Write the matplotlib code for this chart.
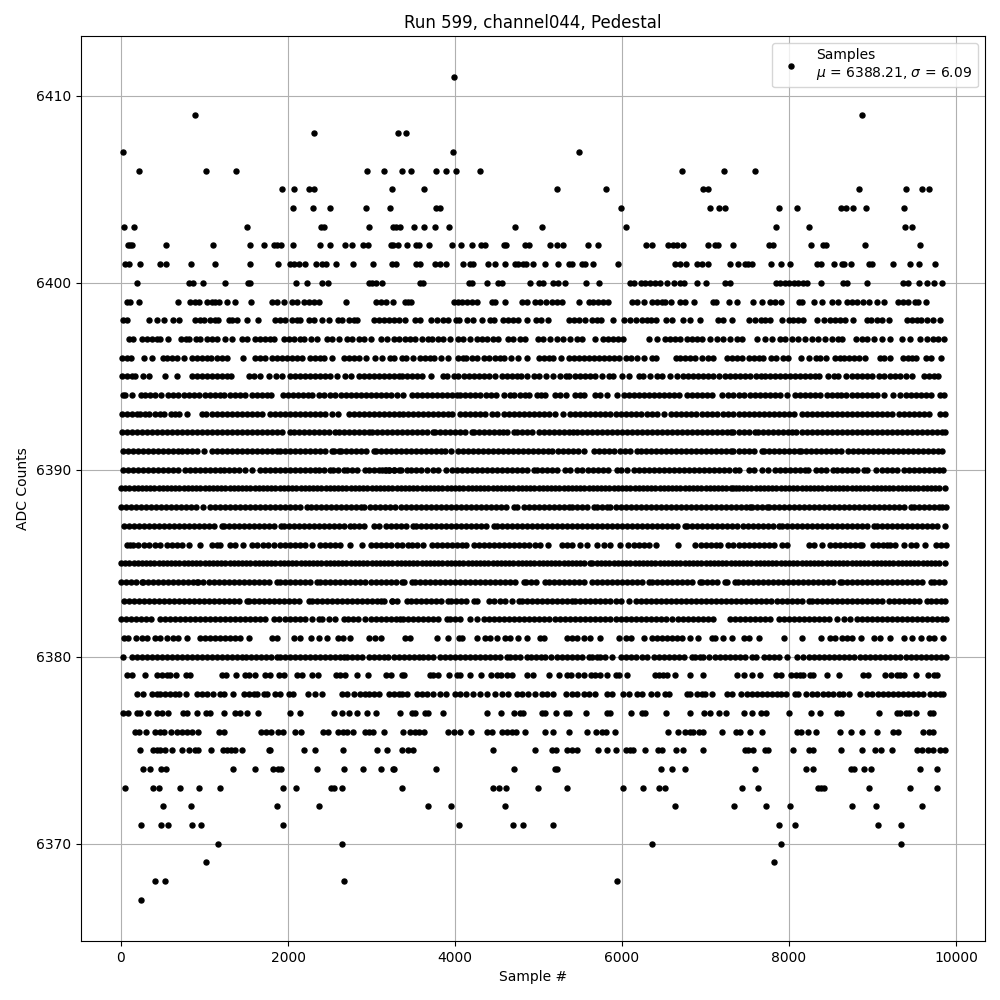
import matplotlib
matplotlib.use("Agg")
import matplotlib.pyplot as plt

# Sample numbers, one list per ADC level.
# Sparse rows are read dot by dot. In the solid rows (about 6380-6396) single
# samples cannot be told apart, so those values only approximate the visible
# runs and gaps, at a hand-chosen spacing; they are not true sample readings.
x_6411 = [3992]
x_6409 = [892, 8877]
x_6408 = [2308, 3313, 3417]
x_6407 = [28, 3980, 5488]
x_6406 = [220,1012,1372,2948,3152,3369,3477,3776,3896,4016,4303,6723,7225,7596]
x_6405 = [1924,2068,2248,2308,3244,3633,5225,5811,6974,7034,8841,9404,9595,9679]
x_6404 = [2056,2296,2500,2932,3220,3776,3824,5991,7058,7165,7237,7884,8099,8626,8686,8770,8925,9380]
x_6403 = [40,160,1504,2392,2428,2968,3256,3290,3340,3505,3633,3764,3932,4722,5045,6051,7848,8243,9392,9476]
x_6402 = [84,108,132,544,1096,1540,1708,1828,1868,1920,2056,2380,2500,2680,2764,2896,2956,3228,3262,3321,3429,3537,3573,3692,3968,4068,4207,4315,4363,4590,4614,4842,4890,5141,5225,5297,5596,5716,6290,6362,6553,6613,6660,6735,7034,7114,7154,7333,7764,7812,8267,8410,8438,8913,9572]
x_6401 = [48,100,232,468,540,844,1120,1540,1876,2028,2068,2132,2200,2332,2412,2460,2572,2776,3016,3248,3288,3533,3581,3760,3820,3892,4099,4179,4219,4399,4483,4602,4718,4758,4818,4850,4937,5081,5237,5368,5396,5520,5556,5656,5955,6635,6695,6767,6902,6962,7034,7297,7393,7473,7513,7561,7788,7908,8016,8339,8379,8542,8630,8658,8746,8961,8993,9248,9452,9560,9751]
x_6400 = [196,820,868,988,1240,1520,1540,2092,2224,2404,2476,2968,3008,3052,3124,3581,3621,4171,4203,4387,4518,4558,4901,5009,5057,5177,5229,5320,5572,5727,6095,6142,6226,6274,6334,6394,6454,6541,6625,6695,6743,6894,7006,7233,7293,7844,7892,7952,8003,8059,8111,8163,8219,8387,8642,8690,8937,9368,9428,9560,9647,9739,9835]
x_6399 = [68,108,220,688,828,888,940,1028,1088,1128,1168,1268,1360,1552,1804,1868,1948,2044,2108,2188,2248,2308,2368,2692,3048,3108,3168,3256,3401,3441,3473,3988,4040,4080,4139,4199,4259,4439,4479,4602,4806,4858,4957,5017,5089,5157,5217,5277,5488,5608,5656,5716,5767,5835,6122,6182,6262,6354,6414,6474,6513,6581,6695,6755,6862,7094,7126,7285,7381,7573,7680,7772,7832,7904,8123,8151,8303,8399,8518,8590,8690,8750,8809,8889,8961,9057,9141,9308,9368,9428,9508,9548,9643]
x_6398 = [28,68,340,436,516,628,700,888,948,996,1060,1128,1156,1288,1328,1388,1504,1636,1848,1908,1968,2044,2108,2148,2248,2308,2408,2488,2596,2648,2728,2788,2828,3028,3088,3148,3208,3268,3328,3401,3521,3581,3708,3780,3860,3912,4012,4052,4147,4211,4327,4419,4467,4578,4638,4698,4750,4866,4969,5025,5117,5368,5424,5488,5556,5636,5696,5743,5895,6027,6095,6166,6234,6294,6342,6406,6525,6593,6735,6815,6934,7154,7213,7321,7525,7592,7660,7712,7772,7920,8000,8051,8111,8171,8339,8418,8490,8550,8610,8670,8762,8929,8981,9049,9109,9200,9416,9468,9528,9576,9655,9727,9811]
x_6397 = [100,148,256,308,368,428,468,560,720,780,820,900,948,1028,1088,1148,1248,1328,1448,1508,1608,1668,1728,1788,1828,1948,2008,2068,2148,2196,2276,2348,2468,2528,2608,2708,2768,2848,2908,2988,3116,3188,3268,3328,3401,3461,3521,3601,3681,3720,3800,3860,3940,4040,4100,4179,4259,4319,4379,4459,4518,4638,4698,4778,4838,4997,5057,5137,5217,5297,5376,5456,5516,5680,5775,5835,5895,5955,6015,6326,6422,6513,6573,6633,6693,6775,6834,6894,6954,7054,7134,7213,7293,7373,7433,7620,7712,7792,7892,7952,8031,8111,8191,8271,8351,8430,8510,8590,8630,8801,8869,8929,9021,9109,9208,9356,9448,9568,9647,9727,9787,9860]
x_6396 = [8,68,116,280,376,508,548,608,676,760,848,908,968,1028,1076,1148,1208,1268,1464,1608,1668,1728,1808,1868,1928,1988,2048,2108,2168,2268,2328,2388,2436,2532,2668,2728,2788,2848,2940,3040,3128,3222,3270,3362,3414,3502,3582,3642,3702,3754,3830,3922,4030,4090,4134,4202,4262,4342,4402,4482,4542,4590,4670,4750,4862,5002,5062,5122,5174,5270,5362,5422,5482,5542,5602,5662,5722,5782,5842,5902,5962,6042,6102,6182,6262,6362,6406,6642,6690,6755,6815,6875,6963,7035,7087,7255,7315,7375,7435,7515,7575,7635,7687,7787,7847,7927,7983,8147,8235,8323,8375,8447,8555,8607,8655,8715,8775,8835,8915,9087,9135,9207,9367,9423,9475,9519,9635,9695,9819]
x_6395 = [12,68,128,168,268,340,532,676,848,908,968,1028,1088,1148,1208,1268,1320,1528,1588,1660,1772,1860,1928,2028,2088,2148,2208,2268,2328,2388,2448,2508,2588,2688,2756,2848,2908,2968,3028,3088,3148,3208,3268,3328,3362,3422,3482,3542,3602,3710,3854,3910,3982,4030,4102,4162,4222,4282,4342,4402,4482,4562,4622,4682,4742,4794,4866,4942,5002,5090,5174,5262,5334,5362,5442,5502,5562,5622,5682,5762,5842,5890,6002,6082,6202,6254,6334,6422,6482,6574,6663,6727,6795,6855,6915,6975,7035,7095,7167,7235,7295,7355,7415,7475,7535,7607,7663,7715,7775,7835,7895,7955,8015,8075,8135,8195,8255,8315,8363,8463,8543,8587,8687,8755,8815,8875,8935,8995,9075,9135,9215,9275,9335,9395,9475,9615,9675,9735,9787]
x_6394 = [20,48,136,236,288,348,408,484,568,628,688,756,816,876,936,1008,1068,1128,1188,1228,1308,1368,1428,1488,1568,1628,1688,1748,1796,1936,1996,2056,2116,2176,2236,2288,2368,2436,2500,2568,2636,2696,2756,2816,2876,2936,2996,3056,3116,3176,3236,3308,3374,3482,3542,3602,3662,3722,3782,3842,3902,3962,4022,4062,4122,4182,4242,4294,4374,4434,4494,4582,4654,4702,4774,4834,4882,4982,5034,5082,5202,5262,5334,5442,5502,5542,5682,5742,5822,5934,6022,6082,6142,6202,6262,6322,6382,6442,6502,6562,6622,6687,6775,6835,6895,6955,7015,7075,7195,7275,7335,7395,7455,7535,7595,7655,7715,7775,7835,7895,7975,8075,8135,8195,8255,8315,8375,8455,8515,8575,8623,8687,8755,8815,8875,8935,8995,9055,9135,9243,9327,9395,9455,9515,9575,9635,9695,9807,9855]
x_6393 = [8,68,128,188,228,288,340,408,468,516,596,648,700,792,968,1020,1088,1148,1208,1268,1328,1388,1448,1508,1568,1628,1688,1780,1840,1900,1968,2028,2088,2148,2208,2268,2328,2388,2448,2528,2596,2728,2788,2848,2908,2968,3028,3088,3148,3208,3268,3328,3382,3442,3502,3562,3622,3682,3742,3802,3862,3922,3962,4062,4122,4182,4242,4302,4354,4442,4502,4582,4642,4702,4762,4822,4882,4942,5002,5062,5122,5202,5294,5382,5442,5502,5562,5622,5682,5742,5802,5862,5922,5982,6042,6102,6162,6222,6302,6362,6422,6502,6582,6642,6703,6767,6827,6887,6955,7015,7075,7135,7215,7275,7335,7395,7455,7515,7575,7635,7695,7755,7815,7875,7935,7995,8055,8155,8215,8275,8335,8395,8455,8515,8575,8635,8695,8755,8815,8875,8935,8995,9055,9115,9175,9235,9315,9375,9435,9495,9555,9615,9675,9807,9863]
x_6392 = [8,68,128,188,248,308,368,428,488,548,608,668,728,788,848,908,968,1028,1088,1148,1208,1268,1328,1388,1448,1508,1568,1628,1688,1748,1808,1868,1928,2020,2068,2128,2188,2248,2308,2368,2428,2488,2568,2608,2668,2728,2788,2848,2908,2968,3008,3068,3128,3188,3248,3308,3368,3428,3488,3548,3608,3668,3734,3762,3822,3882,3942,4002,4062,4122,4202,4230,4290,4350,4410,4470,4530,4574,4622,4702,4742,4802,4862,4922,5002,5062,5122,5182,5242,5302,5362,5414,5462,5522,5582,5642,5702,5762,5822,5882,5942,6002,6062,6122,6182,6242,6302,6362,6422,6482,6542,6602,6662,6722,6782,6842,6902,6962,7022,7082,7142,7202,7262,7307,7335,7395,7455,7515,7587,7623,7683,7743,7803,7863,7923,7983,8035,8087,8155,8215,8275,8335,8395,8455,8515,8575,8635,8695,8755,8815,8875,8935,8995,9055,9115,9175,9235,9295,9355,9415,9475,9535,9595,9655,9715,9775,9835,9865]
x_6391 = [28,88,148,208,268,328,388,448,508,568,628,688,728,788,848,908,996,1088,1148,1208,1268,1328,1388,1448,1508,1568,1628,1688,1748,1808,1868,1908,1968,2028,2088,2148,2208,2268,2328,2388,2448,2528,2548,2608,2636,2696,2756,2816,2876,2936,3028,3048,3108,3168,3228,3288,3348,3408,3468,3528,3588,3648,3708,3768,3828,3882,3954,4030,4090,4150,4210,4270,4330,4390,4450,4510,4570,4630,4690,4750,4810,4870,4930,4990,5050,5110,5162,5230,5290,5350,5410,5470,5550,5670,5730,5790,5850,5910,5970,6030,6090,6182,6230,6290,6350,6410,6470,6530,6590,6650,6710,6770,6830,6890,6950,7010,7070,7130,7190,7250,7307,7335,7395,7455,7515,7575,7675,7703,7763,7823,7883,7943,8003,8063,8115,8143,8203,8263,8323,8383,8443,8503,8563,8623,8703,8767,8827,8887,8947,9007,9067,9127,9187,9247,9307,9367,9427,9487,9547,9607,9667,9727,9787,9835]
x_6390 = [20,80,140,200,260,320,380,440,500,560,620,688,768,828,888,948,1008,1068,1128,1188,1236,1296,1356,1416,1488,1568,1660,1720,1780,1840,1900,1960,2020,2080,2140,2200,2260,2320,2368,2428,2500,2540,2600,2668,2708,2768,2828,2928,2968,3028,3088,3168,3208,3268,3348,3122,3162,3214,3274,3334,3422,3470,3530,3590,3662,3742,3802,3890,3962,4022,4082,4142,4202,4262,4322,4382,4442,4502,4562,4622,4682,4742,4802,4862,4942,4982,5042,5102,5162,5222,5322,5382,5462,5522,5590,5650,5710,5770,5830,5942,5990,6062,6142,6202,6262,6322,6382,6442,6502,6562,6622,6682,6743,6803,6863,6923,6983,7043,7103,7163,7223,7287,7355,7395,7515,7575,7675,7751,7835,7895,7955,8015,8075,8135,8195,8223,8327,8383,8443,8527,8575,8635,8695,8755,8815,8895,8935,9043,9115,9175,9235,9295,9375,9435,9495,9555,9615,9675,9735,9795,9850]
x_6389 = [0,50,100,150,200,250,300,350,400,450,500,550,600,650,700,750,800,850,900,950,1000,1050,1100,1150,1200,1250,1300,1350,1400,1450,1500,1550,1600,1650,1700,1750,1800,1850,1900,1950,2000,2050,2100,2150,2200,2250,2300,2350,2400,2450,2500,2550,2600,2650,2700,2750,2800,2850,2900,2950,3000,3050,3100,3150,3200,3250,3300,3350,3400,3450,3500,3550,3600,3650,3700,3750,3800,3850,3900,3950,4000,4050,4100,4150,4200,4250,4300,4350,4400,4450,4500,4550,4600,4650,4700,4750,4800,4850,4900,4950,5000,5050,5100,5150,5200,5250,5300,5350,5400,5450,5500,5550,5600,5650,5700,5750,5800,5850,5900,5950,6000,6050,6100,6150,6200,6250,6300,6350,6400,6450,6500,6550,6600,6650,6700,6750,6800,6850,6900,6950,7000,7050,7100,7150,7200,7250,7300,7325,7363,7400,7450,7500,7550,7600,7650,7700,7750,7800,7850,7900,7950,8000,8050,8100,8150,8200,8250,8300,8350,8400,8450,8500,8550,8600,8650,8700,8750,8800,8850,8900,8950,9000,9050,9100,9150,9200,9250,9300,9350,9400,9450,9500,9550,9600,9650,9700,9750,9800,9865]
x_6388 = [0,60,120,180,240,300,360,420,480,540,600,660,720,780,840,900,988,1068,1128,1188,1248,1308,1368,1428,1488,1548,1608,1668,1728,1788,1848,1908,1968,2028,2088,2148,2228,2276,2336,2396,2456,2516,2576,2636,2696,2756,2816,2876,2916,2976,3036,3096,3156,3216,3276,3348,3408,3468,3528,3588,3648,3708,3768,3828,3888,3948,4008,4068,4128,4188,4248,4308,4368,4428,4488,4548,4608,4702,4742,4830,4882,4942,5002,5062,5122,5182,5242,5302,5362,5402,5462,5522,5582,5662,5702,5762,5822,5862,5922,5982,6042,6102,6162,6222,6282,6342,6402,6462,6522,6582,6642,6702,6762,6822,6882,6942,7002,7062,7122,7182,7242,7302,7362,7422,7482,7535,7555,7615,7675,7735,7759,7819,7879,7939,7999,8059,8119,8179,8239,8299,8359,8419,8479,8539,8599,8659,8719,8779,8839,8899,8959,9019,9079,9139,9199,9259,9319,9379,9455,9495,9555,9615,9675,9735,9795,9835,9875]
x_6387 = [36,96,156,216,276,336,396,456,516,576,636,696,756,816,876,936,996,1056,1116,1208,1236,1296,1356,1416,1476,1536,1596,1656,1716,1776,1836,1916,1956,2016,2076,2136,2196,2256,2316,2376,2436,2496,2556,2616,2676,2748,2788,2848,2908,3028,3088,3168,3228,3288,3348,3414,3502,3534,3594,3654,3714,3774,3834,3894,3954,4014,4074,4134,4194,4254,4314,4374,4462,4502,4562,4622,4682,4742,4802,4862,4922,4982,5042,5102,5162,5222,5282,5342,5402,5462,5522,5582,5642,5702,5762,5822,5882,5942,6002,6062,6122,6182,6242,6302,6362,6422,6482,6542,6602,6662,6755,6783,6843,6903,6963,7023,7083,7143,7203,7263,7323,7383,7443,7503,7563,7623,7683,7743,7803,7875,7915,7975,8035,8095,8155,8215,8275,8335,8395,8455,8515,8575,8635,8695,8755,8815,8875,8935,9023,9055,9115,9175,9235,9295,9355,9415,9475,9535,9595,9655,9715,9775,9865]
x_6386 = [68,108,148,208,276,340,408,472,548,608,668,728,820,952,1088,1148,1188,1308,1368,1460,1568,1628,1700,1760,1828,1908,1968,2028,2088,2148,2208,2288,2388,2448,2508,2568,2620,2740,2888,2988,3048,3108,3168,3228,3302,3362,3442,3490,3550,3622,3722,3782,3842,3902,3962,4022,4082,4134,4222,4282,4342,4402,4470,4530,4590,4650,4710,4770,4830,4890,4962,5022,5114,5282,5342,5402,5502,5582,5702,5790,5854,5974,6070,6142,6202,6262,6322,6402,6671,6879,6943,7003,7063,7123,7175,7275,7335,7395,7455,7515,7575,7635,7695,7755,7815,7915,7975,8235,8295,8395,8487,8547,8615,8675,8735,8795,8855,8875,9003,9063,9123,9175,9215,9275,9375,9455,9515,9627,9755,9815,9875]
x_6385 = [0,50,100,150,200,250,300,350,400,450,500,550,600,650,700,750,800,850,900,950,1000,1050,1100,1150,1200,1250,1300,1350,1400,1450,1500,1550,1600,1650,1700,1750,1800,1850,1900,1950,2000,2050,2100,2150,2200,2250,2300,2350,2400,2450,2500,2550,2600,2650,2700,2750,2800,2850,2900,2950,3000,3050,3100,3150,3200,3250,3300,3350,3400,3450,3500,3550,3600,3650,3700,3750,3800,3850,3900,3950,4000,4050,4100,4150,4200,4250,4300,4350,4400,4450,4500,4550,4600,4650,4700,4750,4800,4850,4900,4950,5000,5050,5100,5150,5200,5250,5300,5350,5400,5450,5500,5550,5620,5640,5700,5750,5800,5850,5900,5950,6000,6050,6100,6150,6200,6250,6300,6350,6400,6450,6500,6550,6600,6650,6700,6750,6800,6850,6900,6950,7000,7050,7100,7150,7200,7250,7300,7350,7400,7450,7500,7550,7600,7650,7700,7750,7800,7850,7900,7950,8000,8050,8100,8150,8200,8250,8300,8350,8400,8450,8500,8550,8600,8650,8700,8750,8800,8850,8900,8950,9000,9050,9100,9150,9200,9250,9300,9350,9400,9450,9500,9550,9600,9650,9700,9750,9800,9865]
x_6384 = [0,60,120,180,248,268,328,388,448,508,568,628,688,748,808,868,908,928,988,1048,1108,1168,1228,1288,1348,1408,1468,1528,1588,1648,1708,1768,1868,1908,1968,2028,2088,2148,2208,2268,2348,2388,2448,2508,2568,2620,2688,2748,2808,2868,2928,2988,3048,3108,3168,3228,3288,3362,3390,3490,3522,3582,3642,3702,3762,3822,3882,3942,4002,4054,4114,4174,4242,4302,4362,4422,4482,4542,4602,4662,4722,4822,4850,4910,4970,5082,5122,5182,5242,5302,5362,5422,5482,5542,5642,5702,5762,5822,5882,5942,6002,6062,6122,6182,6242,6322,6362,6422,6482,6542,6602,6655,6715,6775,6835,6935,6963,7023,7083,7143,7235,7263,7355,7387,7447,7507,7567,7627,7687,7747,7807,7867,7927,7987,8047,8107,8167,8227,8287,8347,8407,8467,8527,8615,8635,8695,8755,8815,8875,8935,8995,9055,9115,9175,9235,9295,9355,9415,9475,9535,9595,9695,9735,9795,9855]
x_6383 = [36,96,156,216,276,336,396,456,516,576,636,696,756,816,876,936,996,1056,1116,1176,1236,1296,1356,1416,1508,1528,1588,1648,1708,1768,1828,1888,1948,2008,2068,2128,2248,2288,2348,2408,2468,2528,2588,2648,2708,2768,2828,2888,2948,3008,3068,3148,3114,3242,3248,3310,3422,3470,3530,3590,3650,3710,3770,3830,3914,3954,4014,4074,4134,4222,4262,4402,4462,4534,4594,4682,4762,4802,4862,4922,4982,5042,5102,5162,5222,5282,5342,5402,5442,5502,5562,5622,5682,5742,5802,5862,5922,5982,6082,6162,6222,6282,6342,6402,6462,6522,6582,6642,6702,6762,6822,6882,6942,7002,7062,7122,7182,7242,7302,7362,7422,7482,7542,7602,7662,7722,7782,7855,7915,7975,8035,8095,8155,8235,8275,8335,8395,8455,8515,8575,8635,8695,8755,8815,8875,8935,8995,9055,9115,9195,9255,9315,9375,9435,9495,9555,9655,9695,9755,9815,9865]
x_6382 = [0,60,120,180,240,300,360,468,528,588,648,708,768,828,888,948,1008,1068,1128,1188,1248,1308,1368,1428,1488,1548,1608,1668,1728,1828,1888,1968,2028,2088,2148,2208,2288,2368,2408,2488,2568,2668,2716,2776,2836,2928,2996,3056,3116,3176,3236,3296,3342,3382,3442,3502,3562,3622,3682,3742,3802,3902,3942,4002,4062,4182,4262,4342,4402,4462,4522,4582,4642,4702,4762,4822,4882,4942,5002,5062,5122,5202,5262,5322,5382,5442,5502,5562,5622,5682,5742,5802,5862,5922,5982,6042,6102,6162,6222,6282,6342,6402,6462,6522,6595,6675,6735,6795,6855,6915,6975,7035,7095,7295,7355,7415,7475,7535,7595,7655,7715,7775,7875,7935,7995,8055,8115,8175,8235,8295,8355,8415,8475,8575,8655,8735,8815,8875,8935,8995,9055,9115,9175,9235,9295,9355,9415,9475,9535,9595,9655,9715,9775,9835,9875]
x_6381 = [36,88,176,248,308,408,468,548,628,688,796,948,1000,1060,1128,1188,1248,1308,1368,1428,1528,1808,1868,2068,2148,2276,2368,2468,2596,2656,2748,2968,3040,3108,3402,3462,3790,3922,4042,4082,4262,4362,4414,4502,4602,4662,4754,4862,5022,5062,5342,5402,5462,5542,5614,5734,5962,6042,6102,6262,6362,6422,6482,6542,6602,6662,6722,6815,6915,7075,7115,7215,7315,7455,7515,7635,7935,8151,8387,8495,8555,8635,8695,8755,8859,9023,9095,9207,9375,9475,9583,9675,9735,9843]
x_6380 = [28,128,188,248,308,368,428,488,548,608,668,728,788,848,908,968,1028,1088,1148,1208,1268,1328,1388,1448,1496,1556,1616,1676,1736,1796,1868,1908,1968,2028,2088,2148,2208,2268,2328,2388,2448,2508,2568,2628,2668,2708,2768,2828,2888,2968,3028,3088,3148,3202,3270,3330,3390,3450,3510,3570,3622,3682,3734,3822,3882,3942,4002,4062,4122,4182,4242,4302,4362,4422,4482,4542,4622,4662,4722,4782,4862,4910,4970,5030,5082,5150,5222,5282,5342,5402,5462,5522,5602,5642,5702,5742,5794,5882,5982,6042,6102,6162,6242,6302,6382,6442,6502,6562,6622,6682,6742,6835,6875,6935,6975,7047,7115,7175,7235,7295,7355,7415,7475,7555,7607,7695,7755,7815,7875,7975,8095,8167,8243,8303,8363,8423,8483,8543,8603,8663,8723,8783,8855,8915,8975,9035,9095,9155,9215,9275,9335,9395,9455,9515,9575,9635,9695,9755,9815,9875]
x_6379 = [68,136,284,428,488,548,588,664,780,828,1208,1260,1376,1488,1528,1608,1728,1788,1888,1948,2108,2168,2284,2356,2576,2628,2688,2828,2960,3168,3228,3361,3389,3700,3740,3800,3932,4020,4060,4183,4315,4435,4499,4546,4618,4686,4866,4937,5129,5249,5344,5392,5476,5548,5624,5676,5736,5823,5927,5967,6063,6394,6446,6494,6534,6637,6818,6974,7381,7465,7561,7656,7848,7908,8019,8083,8131,8171,8251,8291,8458,8602,8889,8949,9152,9216,9288,9328,9380,9524,9667,9739,9767]
x_6378 = [188,260,368,428,468,528,588,648,700,780,908,968,1028,1100,1180,1236,1336,1468,1528,1588,1628,1708,1748,1848,1908,2008,2060,2236,2320,2404,2648,2708,2788,2868,2928,2968,3028,3088,3208,3268,3328,3361,3429,3541,3601,3661,3740,3820,3892,4000,4060,4132,4219,4299,4379,4483,4558,4638,4746,4798,4878,4957,5037,5097,5173,5328,5396,5456,5544,5608,5676,5823,5883,6015,6087,6174,6234,6342,6414,6513,6565,6775,6815,6894,6954,6994,7082,7261,7321,7421,7493,7552,7612,7672,7732,7792,7852,7900,7960,8071,8111,8207,8271,8331,8402,8470,8530,8598,8650,8722,8849,8929,8993,9069,9129,9188,9248,9308,9368,9428,9488,9548,9607,9687,9747,9807,9847]
x_6377 = [28,88,188,228,328,428,488,568,748,788,916,1020,1068,1228,1368,1428,1504,1644,2020,2140,2548,2648,2728,2828,2944,3052,3345,3481,3521,3641,3681,3860,4387,4554,4702,4778,4818,5045,5077,5213,5328,5368,5572,5815,5855,6110,6234,6274,6530,6818,6986,7058,7165,7249,7465,7561,7668,7724,8003,8267,8371,8570,8626,9081,9288,9328,9400,9440,9516,9687,9727]
x_6376 = [172,220,304,412,468,520,604,668,728,788,848,928,1168,1228,1672,1736,1796,1880,1940,2080,2152,2416,2476,2596,2656,2708,2776,2928,2968,3020,3148,3381,3461,3521,3573,3633,3920,3992,4064,4195,4387,4447,4558,4618,4678,4730,4842,5081,5177,5369,5584,5691,5763,5807,5915,6553,6673,6755,6815,6854,6926,6974,7201,7365,7413,7537,7680,8099,8147,8231,8327,8614,8746,8877,9057,9248,9308,9607,9679,9727]
x_6375 = [232,388,428,468,528,608,736,820,888,920,1072,1216,1268,1316,1368,1444,1768,1788,2188,2320,2656,3060,3184,3369,3441,3501,4459,4961,5165,5213,5344,5404,5456,5716,5815,5927,6047,6095,6135,6278,6434,6474,6649,6735,6974,7473,7513,7572,7712,7752,8051,8243,8291,8626,8877,9033,9105,9236,9536,9587,9667,9727,9807,9867]
x_6374 = [268,352,484,544,1336,1600,1816,1876,1912,2344,2668,2896,3112,3262,3268,3776,4710,5201,5225,6470,6601,6759,7596,8207,8291,8746,8782,8901,8985,9572,9775]
x_6373 = [52,388,460,712,940,1180,1936,2092,2512,2548,2644,3369,4459,4531,4614,4997,5344,6015,6254,6446,6518,7441,7632,8351,8383,8415,8961,9452,9775]
x_6372 = [508,844,1864,2368,3681,3956,4602,6637,7345,7728,8016,8758,9045,9595]
x_6371 = [244,484,560,856,964,1936,4052,4698,4818,5177,7884,8075,9069,9344]
x_6370 = [1156,2644,6362,7908,9344]
x_6369 = [1012,7824]
x_6368 = [412,532,2668,5943]
x_6367 = [244]

levels = [6411,6409,6408,6407,6406,6405,6404,6403,6402,6401,6400,6399,6398,6397,6396,6395,6394,6393,6392,6391,6390,
          6389,6388,6387,6386,6385,6384,6383,6382,6381,6380,6379,6378,6377,6376,6375,6374,6373,6372,6371,6370,6369,6368,6367]
samples = [x_6411,x_6409,x_6408,x_6407,x_6406,x_6405,x_6404,x_6403,x_6402,x_6401,x_6400,x_6399,x_6398,x_6397,x_6396,x_6395,x_6394,x_6393,x_6392,x_6391,x_6390,
           x_6389,x_6388,x_6387,x_6386,x_6385,x_6384,x_6383,x_6382,x_6381,x_6380,x_6379,x_6378,x_6377,x_6376,x_6375,x_6374,x_6373,x_6372,x_6371,x_6370,x_6369,x_6368,x_6367]

xs, ys = [], []
for level, row in zip(levels, samples):
    xs.extend(row)
    ys.extend([level] * len(row))

fig, ax = plt.subplots(figsize=(10, 10), dpi=100)
ax.plot(xs, ys, "k.", markersize=7.2, label="Samples\n$\\mu$ = 6388.21, $\\sigma$ = 6.09")
ax.set_xlim(-479, 10347)
ax.set_ylim(6364.8, 6413.2)
ax.set_xlabel("Sample #")
ax.set_ylabel("ADC Counts")
ax.set_title("Run 599, channel044, Pedestal")
ax.grid(True)
ax.legend(loc="upper right")
fig.subplots_adjust(left=0.081, right=0.985, top=0.964, bottom=0.059)
fig.savefig("out.png", dpi=100)
